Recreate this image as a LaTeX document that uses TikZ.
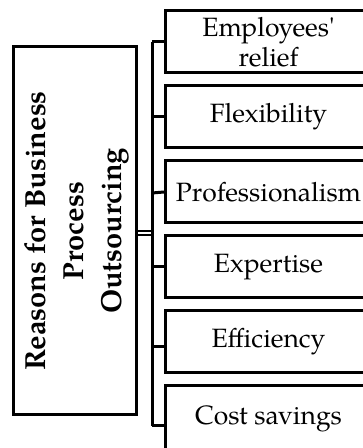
\documentclass[tikz,border=0pt]{standalone}
\usepackage{fontspec}
\setmainfont{TeX Gyre Pagella}[Ligatures=TeXOff]
\begin{document}
\begin{tikzpicture}[x=1pt,y=1pt,
  line width=3pt,
  reason/.style={draw, rectangle, anchor=west, minimum width=206pt,
    minimum height=62pt, inner sep=0pt, align=center,
    font=\fontsize{26.5}{30}\selectfont},
  mainbox/.style={draw, rectangle, minimum width=123pt, minimum height=368pt,
    inner sep=0pt},
  maintext/.style={rotate=90, align=center, inner sep=0pt,
    font=\fontsize{29}{38}\selectfont\bfseries}]
\useasboundingbox (0,0) rectangle (363,448);
\clip (0,0) rectangle (363,448);

% central box with the rotated heading
\node[mainbox] (main) at (74.5,217) {};
\node[maintext] (mtext) at (77,217)
  {Reasons for Business\\Process\\Outsourcing};

% reason boxes, open to the right edge
\node[reason] (r1) at (164,406) {Employees'\\relief};
\node[reason] (r2) at (164,331) {Flexibility};
\node[reason] (r3) at (164,256) {Professionalism};
\node[reason] (r4) at (164,181) {Expertise};
\node[reason] (r5) at (164,106) {Efficiency};
\node[reason, minimum height=66pt] (r6) at (164,29) {Cost savings};

% vertical bus and its branches
\coordinate (bt) at (152,406);
\coordinate (bb) at (152,22);
\draw (bt) -- (bb);
\draw (bt) -- (r1.west);
\draw (152,331) -- (r2.west);
\draw (152,255) -- (r3.west);
\draw (152,181) -- (r4.west);
\draw (152,101) -- (r5.west |- 0,101);
\draw (bb) -- (r6.west |- 0,22);

% double link from the heading box to the bus
\coordinate (l1) at (152,217);
\coordinate (l2) at (152,213);
\draw[line width=1.5pt] (main.east |- l1) -- (l1);
\draw[line width=1.5pt] (main.east |- l2) -- (l2);
\end{tikzpicture}
\end{document}
